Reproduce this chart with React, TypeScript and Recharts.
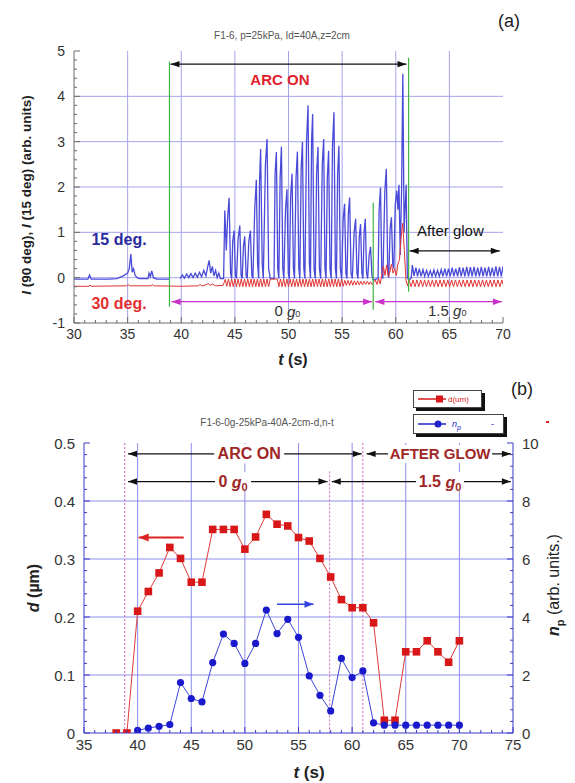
import React from 'react';
import { LineChart, Line, XAxis, YAxis, ReferenceLine, ReferenceDot } from 'recharts';

const FONT = '"Liberation Sans", Arial, Helvetica, sans-serif';

// ---------- panel (a): scattered light intensity vs time ----------
// 15 deg signal (blue), [t (s), I]
const blue15: [number, number | null][] = [
  [30.0, -0.03], [31.3, -0.03], [31.45, 0.06], [31.6, -0.03], [33.2, -0.03], [34.0, -0.02], [34.6, 0.04], [35.0, 0.1],
  [35.15, 0.2], [35.3, 0.52], [35.42, 0.12], [35.55, 0.2], [35.7, 0.05], [35.9, 0.0], [36.1, -0.02], [36.9, -0.02],
  [37.0, 0.1], [37.12, 0.02], [37.25, 0.15], [37.4, 0.0], [37.7, -0.03], [38.9, -0.03], [39.3, null],
  [39.9, -0.02], [40.1, 0.06], [40.3, -0.01], [40.5, 0.08], [40.7, 0.0], [40.9, 0.09], [41.1, 0.0], [41.3, 0.1],
  [41.5, 0.01], [41.7, 0.12], [41.9, 0.02], [42.1, 0.16], [42.3, 0.04], [42.45, 0.22], [42.6, 0.38], [42.75, 0.1],
  [42.9, 0.25], [43.05, 0.04], [43.2, 0.16], [43.35, 0.0], [43.5, 0.1], [43.65, -0.02], [43.95, -0.02],
  [44.06, 1.48], [44.2, 0.6], [44.32, 1.3], [44.46, 1.76], [44.6, 0.1], [44.7, -0.02], [44.8, 0.8], [44.93, 1.04],
  [45.05, 0.05], [45.15, -0.02], [45.3, 0.85], [45.46, 1.15], [45.58, 0.05], [45.68, -0.02], [45.8, 0.7], [45.92, 0.91],
  [46.05, 0.05], [46.15, -0.02], [46.3, 0.8], [46.45, 1.04], [46.58, 0.05], [46.68, -0.02], [46.85, 1.5], [47.0, 2.16],
  [47.12, 0.3], [47.22, -0.02], [47.3, 2.1], [47.4, 2.84], [47.55, 0.3], [47.65, -0.02], [47.85, 2.5], [48.0, 3.06],
  [48.15, 0.2], [48.3, -0.02], [48.65, -0.02], [48.75, 2.3], [48.87, 2.77], [49.0, 0.2], [49.1, -0.02], [49.22, 2.2],
  [49.34, 2.89], [49.47, 0.2], [49.57, -0.02], [49.72, 1.5], [49.86, 1.95], [49.98, 0.1], [50.08, -0.02], [50.2, 1.8],
  [50.33, 2.29], [50.46, 0.2], [50.56, -0.02], [50.7, 2.2], [50.83, 2.78], [50.96, 0.2], [51.06, -0.02], [51.18, 2.4],
  [51.3, 2.99], [51.43, 0.2], [51.53, -0.02], [51.68, 3.0], [51.82, 3.8], [51.95, 0.3], [52.05, -0.02], [52.15, 3.0],
  [52.25, 3.61], [52.38, 0.2], [52.5, -0.02], [52.62, 2.3], [52.75, 2.88], [52.88, 0.2], [53.0, -0.02], [53.15, 2.5],
  [53.28, 3.06], [53.4, 0.2], [53.5, -0.02], [53.62, 2.2], [53.74, 2.8], [53.87, 0.2], [53.98, -0.02], [54.1, 2.9],
  [54.24, 3.65], [54.37, 0.2], [54.47, -0.02], [54.58, 2.3], [54.7, 2.91], [54.83, 0.2], [54.95, -0.02], [55.1, 1.3],
  [55.23, 1.63], [55.35, 0.1], [55.45, -0.02], [55.58, 1.4], [55.7, 1.77], [55.83, 0.1], [55.95, -0.02], [56.12, 1.0],
  [56.26, 1.3], [56.38, 0.1], [56.48, -0.02], [56.6, 0.9], [56.72, 1.18], [56.84, 0.1], [56.94, -0.02], [57.05, 1.0],
  [57.16, 1.3], [57.28, 0.1], [57.38, -0.02], [57.52, 0.5], [57.65, 0.68], [57.78, 0.05], [57.9, -0.05], [58.35, -0.02],
  [58.45, 1.5], [58.58, 1.99], [58.7, 0.1], [58.8, -0.02], [58.98, 1.9], [59.12, 2.4], [59.25, 0.2], [59.35, 0.0],
  [59.48, 1.1], [59.6, 1.33], [59.72, 0.3], [59.82, 0.2], [59.95, 1.6], [60.1, 1.92], [60.2, 1.5], [60.3, 2.05],
  [60.42, 0.5], [60.55, 2.0], [60.66, 4.5], [60.78, 1.0], [60.88, 1.6], [60.97, 2.05], [61.08, 0.0], [61.2, -0.05],
  [61.35, -0.03], [61.45, 0.0], [61.55, 0.28], [61.7, 0.04], [61.88, 0.22], [62.03, 0.03], [62.2, 0.2], [62.36, 0.03],
  [62.54, 0.18], [62.7, 0.03], [62.88, 0.16], [63.04, 0.03], [63.22, 0.15], [63.38, 0.03], [63.56, 0.17], [63.72, 0.03],
  [63.9, 0.16], [64.06, 0.03], [64.24, 0.18], [64.4, 0.03], [64.58, 0.2], [64.74, 0.03], [64.92, 0.2], [65.08, 0.03],
  [65.26, 0.22], [65.42, 0.03], [65.6, 0.2], [65.76, 0.03], [65.94, 0.23], [66.1, 0.03], [66.28, 0.22], [66.44, 0.03],
  [66.62, 0.24], [66.78, 0.03], [66.96, 0.23], [67.12, 0.03], [67.3, 0.24], [67.46, 0.03], [67.64, 0.22], [67.8, 0.03],
  [67.98, 0.24], [68.14, 0.03], [68.32, 0.22], [68.48, 0.03], [68.66, 0.24], [68.82, 0.03], [69.0, 0.22], [69.16, 0.03],
  [69.34, 0.25], [69.5, 0.03], [69.68, 0.24], [69.84, 0.03], [70.0, 0.25],
];

// 30 deg signal (red), [t (s), I]
const red30: [number, number][] = [
  [30, -0.19], [31.4, -0.19], [31.5, -0.16], [31.6, -0.19], [34.9, -0.18], [35.05, -0.15], [35.2, -0.18], [37.2, -0.18],
  [37.3, -0.15], [37.45, -0.18], [40, -0.19], [41.6, -0.18], [41.75, -0.15], [41.9, -0.18], [42.3, -0.16], [42.5, -0.13],
  [42.7, -0.17], [42.9, -0.14], [43.2, -0.18], [43.9, -0.17], [44.1, -0.04],
  [44.25, -0.19], [44.4, -0.03], [44.55, -0.2], [44.7, -0.03], [44.85, -0.2], [45.0, -0.03], [45.15, -0.2], [45.3, -0.03],
  [45.45, -0.2], [45.6, -0.03], [45.75, -0.2], [45.9, -0.03], [46.05, -0.2], [46.2, -0.03], [46.35, -0.2], [46.5, -0.03],
  [46.65, -0.2], [46.8, -0.03], [46.95, -0.2], [47.1, -0.03], [47.25, -0.2], [47.4, -0.03], [47.55, -0.2], [47.7, -0.03],
  [47.85, -0.2], [48.0, -0.03], [48.15, -0.2], [48.3, -0.03], [48.95, -0.03],
  [49.1, -0.2], [49.25, -0.03], [49.4, -0.2], [49.55, -0.03], [49.7, -0.2], [49.85, -0.03], [50.0, -0.2], [50.15, -0.03],
  [50.3, -0.2], [50.45, -0.03], [50.6, -0.2], [50.75, -0.03], [50.9, -0.2], [51.05, -0.03], [51.2, -0.2], [51.35, -0.03],
  [51.5, -0.2], [51.65, -0.03], [51.8, -0.2], [51.95, -0.03], [52.1, -0.2], [52.25, -0.03], [52.4, -0.2], [52.55, -0.03],
  [52.7, -0.2], [52.85, -0.03], [53.0, -0.2], [53.15, -0.03], [53.3, -0.2], [53.45, -0.03], [53.6, -0.2], [53.75, -0.03],
  [53.9, -0.2], [54.05, -0.03], [54.2, -0.2], [54.35, -0.03], [54.5, -0.2], [54.65, -0.03], [54.8, -0.2], [54.95, -0.03],
  [55.1, -0.19], [55.25, -0.06], [55.4, -0.17], [55.55, -0.06], [55.7, -0.17], [55.85, -0.06], [56.0, -0.17], [56.15, -0.07],
  [56.3, -0.16], [56.45, -0.07], [56.6, -0.16], [56.75, -0.08], [56.9, -0.16], [57.05, -0.08], [57.2, -0.15], [57.35, -0.08],
  [57.5, -0.15], [57.65, -0.09], [57.8, -0.15],
  [57.95, -0.1], [58.1, -0.05], [58.25, -0.15], [58.4, -0.02], [58.55, -0.14], [58.7, 0.05], [58.85, 0.25], [59.0, 0.05],
  [59.15, 0.28], [59.3, 0.02], [59.45, 0.12], [59.6, 0.3], [59.75, 0.1], [59.9, 0.2], [60.05, 0.05], [60.2, 0.3],
  [60.35, 0.4], [60.5, 0.9], [60.65, 1.2], [60.8, 0.6], [60.95, -0.05], [61.1, -0.18],
  [61.25, -0.05], [61.43, -0.2], [61.61, -0.05], [61.79, -0.2], [61.97, -0.05], [62.15, -0.2], [62.33, -0.05], [62.51, -0.2],
  [62.69, -0.05], [62.87, -0.2], [63.05, -0.05], [63.23, -0.2], [63.41, -0.05], [63.59, -0.2], [63.77, -0.05], [63.95, -0.2],
  [64.13, -0.05], [64.31, -0.2], [64.49, -0.05], [64.67, -0.2], [64.85, -0.05], [65.03, -0.2], [65.21, -0.05], [65.39, -0.2],
  [65.57, -0.05], [65.75, -0.2], [65.93, -0.05], [66.11, -0.2], [66.29, -0.05], [66.47, -0.2], [66.65, -0.05], [66.83, -0.2],
  [67.01, -0.05], [67.19, -0.2], [67.37, -0.05], [67.55, -0.2], [67.73, -0.05], [67.91, -0.2], [68.09, -0.05], [68.27, -0.2],
  [68.45, -0.05], [68.63, -0.2], [68.81, -0.05], [68.99, -0.2], [69.17, -0.05], [69.35, -0.2], [69.53, -0.05], [69.71, -0.2],
  [69.89, -0.05], [70.0, -0.15],
];

const xMajorA = [30, 35, 40, 45, 50, 55, 60, 65, 70];
const yMajorA = [-1, 0, 1, 2, 3, 4, 5];

// ---------- panel (b): particle size and number density ----------
const timesB = [38, 39, 40, 41, 42, 43, 44, 45, 46, 47, 48, 49, 50, 51, 52, 53, 54, 55, 56, 57, 58, 59, 60, 61, 62, 63, 64, 65, 66, 67, 68, 69, 70];
const dValues = [0, 0, 0.21, 0.244, 0.276, 0.32, 0.301, 0.26, 0.26, 0.351, 0.351, 0.351, 0.317, 0.338, 0.377, 0.36, 0.357, 0.337, 0.331, 0.301, 0.269, 0.23, 0.216, 0.216, 0.19, 0.022, 0.022, 0.14, 0.14, 0.159, 0.14, 0.122, 0.159];
const npValues = [null, null, 0.09, 0.17, 0.23, 0.29, 1.74, 1.19, 1.07, 2.43, 3.41, 3.09, 2.4, 3.09, 4.24, 3.43, 3.92, 3.3, 1.97, 1.3, 0.76, 2.57, 1.91, 2.14, 0.35, 0.27, 0.27, 0.27, 0.27, 0.27, 0.27, 0.27, 0.27];

const xMajorB = [35, 40, 45, 50, 55, 60, 65, 70, 75];
const dMajor = [0, 0.1, 0.2, 0.3, 0.4, 0.5];
const npMajor = [0, 2, 4, 6, 8, 10];

const seriesA15 = blue15.map(([t, v]) => ({ t, v }));
const seriesA30 = red30.map(([t, v]) => ({ t, v }));
const dataB = timesB.map((t, i) => ({ t, d: dValues[i], np: npValues[i] }));

const steps = (from: number, to: number, step: number) => {
  const n = Math.round((to - from) / step);
  return Array.from({ length: n + 1 }, (_, i) => Math.round((from + i * step) * 1000) / 1000);
};

type Side = 'bottom' | 'top' | 'left' | 'right';
const makeTick =
  (side: Side, majors: number[], color: string, labels: boolean, fontSize: number, labelColor = '#333') =>
  (props: any) => {
    const { x, y, payload } = props;
    const v = payload.value as number;
    const major = majors.some((m) => Math.abs(m - v) < 1e-6);
    const len = major ? 6 : 3;
    let line: React.ReactNode = null;
    let text: React.ReactNode = null;
    const txt = { fontSize, fill: labelColor, fontFamily: FONT } as any;
    if (side === 'bottom') {
      line = <line x1={x} y1={y} x2={x} y2={y - len} stroke={color} />;
      if (labels && major) text = <text x={x} y={y + 6} textAnchor="middle" dominantBaseline="hanging" {...txt}>{v}</text>;
    } else if (side === 'top') {
      line = <line x1={x} y1={y} x2={x} y2={y + len} stroke={color} />;
    } else if (side === 'left') {
      line = <line x1={x} y1={y} x2={x + len} y2={y} stroke={color} />;
      if (labels && major) text = <text x={x - 9} y={y} textAnchor="end" dominantBaseline="central" {...txt}>{v}</text>;
    } else {
      line = <line x1={x} y1={y} x2={x - len} y2={y} stroke={color} />;
      if (labels && major) text = <text x={x + 9} y={y} textAnchor="start" dominantBaseline="central" {...txt}>{v}</text>;
    }
    return (
      <g>
        {line}
        {text}
      </g>
    );
  };

const Arrow =
  (color: string, heads: 'both' | 'start' | 'end', sw = 1.2, hl = 9, hw = 3.2) =>
  (p: any) => {
    const { x1, y1, x2, y2 } = p;
    const dir = x2 >= x1 ? 1 : -1;
    const polys: string[] = [];
    if (heads !== 'start') polys.push(`${x2},${y2} ${x2 - dir * hl},${y2 - hw} ${x2 - dir * hl},${y2 + hw}`);
    if (heads !== 'end') polys.push(`${x1},${y1} ${x1 + dir * hl},${y1 - hw} ${x1 + dir * hl},${y1 + hw}`);
    return (
      <g>
        <line x1={x1} y1={y1} x2={x2} y2={y2} stroke={color} strokeWidth={sw} />
        {polys.map((pt, i) => (
          <polygon key={i} points={pt} fill={color} />
        ))}
      </g>
    );
  };

const TextMark =
  (content: React.ReactNode, size: number, color: string, weight: any = 'normal', bg = 0) =>
  (p: any) => (
    <g>
      {bg ? <rect x={p.cx - bg / 2} y={p.cy - size * 0.6} width={bg} height={size * 1.2} fill="#fff" /> : null}
      <text x={p.cx} y={p.cy} textAnchor="middle" dominantBaseline="central" fontSize={size} fill={color} fontWeight={weight} fontFamily={FONT}>
        {content}
      </text>
    </g>
  );

const SquareDot = (p: any) =>
  p.cx == null || p.cy == null ? <g key={p.index} /> : <rect key={p.index} x={p.cx - 3.8} y={p.cy - 3.8} width={7.6} height={7.6} fill="#d81818" />;

const Label = ({ x, y, rotate = 0, style, children }: { x: number; y: number; rotate?: number; style?: React.CSSProperties; children: React.ReactNode }) => (
  <div
    style={{
      position: 'absolute',
      left: x,
      top: y,
      transform: `translate(-50%, -50%) rotate(${rotate}deg)`,
      whiteSpace: 'nowrap',
      fontFamily: FONT,
      lineHeight: 1,
      ...style,
    }}
  >
    {children}
  </div>
);

const PanelA = () => {
  const frame = '#6a6a6a';
  const grid = '#a4a4ee';
  const xs = { xAxisId: 'b', yAxisId: 'l', ifOverflow: 'visible' as const };
  return (
    <LineChart width={575} height={380} margin={{ top: 51, right: 72, bottom: 32, left: 34 }}>
      <XAxis xAxisId="b" type="number" dataKey="t" domain={[30, 70]} allowDataOverflow ticks={steps(30, 70, 1)} interval={0}
        height={25} tickSize={0} tickMargin={0} tickLine={false} axisLine={{ stroke: frame }} tick={makeTick('bottom', xMajorA, frame, true, 14)} />
      <XAxis xAxisId="t" orientation="top" type="number" dataKey="t" domain={[30, 70]} allowDataOverflow ticks={steps(30, 70, 1)} interval={0}
        height={0} tickSize={0} tickMargin={0} tickLine={false} axisLine={{ stroke: frame }} tick={makeTick('top', xMajorA, frame, false, 14)} />
      <YAxis yAxisId="l" type="number" domain={[-1, 5]} allowDataOverflow ticks={steps(-1, 5, 0.2)} interval={0}
        width={40} tickSize={0} tickMargin={0} tickLine={false} axisLine={{ stroke: frame }} tick={makeTick('left', yMajorA, frame, true, 14)} />
      <YAxis yAxisId="r" orientation="right" type="number" domain={[-1, 5]} allowDataOverflow ticks={steps(-1, 5, 0.2)} interval={0}
        width={0} tickSize={0} tickMargin={0} tickLine={false} axisLine={{ stroke: frame }} tick={makeTick('right', yMajorA, frame, false, 14)} />

      {xMajorA.slice(1, -1).map((x) => (
        <ReferenceLine key={'gx' + x} {...xs} x={x} stroke={grid} />
      ))}
      {yMajorA.slice(1, -1).map((y) => (
        <ReferenceLine key={'gy' + y} {...xs} y={y} stroke={grid} />
      ))}

      <Line xAxisId="b" yAxisId="l" data={seriesA15} dataKey="v" stroke="#4a4ad8" strokeWidth={1.3} dot={false} isAnimationActive={false} type="linear" />
      <Line xAxisId="b" yAxisId="l" data={seriesA30} dataKey="v" stroke="#e23434" strokeWidth={1} dot={false} isAnimationActive={false} type="linear" />

      <ReferenceLine {...xs} segment={[{ x: 38.9, y: 4.77 }, { x: 38.9, y: -0.64 }]} stroke="#3fb63f" strokeWidth={1.2} />
      <ReferenceLine {...xs} segment={[{ x: 61.2, y: 4.85 }, { x: 61.2, y: -0.31 }]} stroke="#3fb63f" strokeWidth={1.2} />
      <ReferenceLine {...xs} segment={[{ x: 57.9, y: 1.65 }, { x: 57.9, y: -0.71 }]} stroke="#3fb63f" strokeWidth={1.2} />

      <ReferenceLine {...xs} segment={[{ x: 39.0, y: 4.71 }, { x: 61.0, y: 4.71 }]} shape={Arrow('#111', 'both')} />
      <ReferenceLine {...xs} segment={[{ x: 61.3, y: 0.59 }, { x: 69.7, y: 0.59 }]} shape={Arrow('#111', 'both')} />
      <ReferenceLine {...xs} segment={[{ x: 39.1, y: -0.53 }, { x: 57.8, y: -0.53 }]} shape={Arrow('#c832c8', 'both')} />
      <ReferenceLine {...xs} segment={[{ x: 58.1, y: -0.53 }, { x: 69.9, y: -0.53 }]} shape={Arrow('#c832c8', 'both')} />

      <ReferenceDot {...xs} x={49.2} y={4.38} r={0} shape={TextMark('ARC ON', 15, '#e3202c', 'bold')} />
      <ReferenceDot {...xs} x={65.1} y={1.05} r={0} shape={TextMark('After glow', 15, '#111', 500)} />
      <ReferenceDot {...xs} x={34.2} y={0.85} r={0} shape={TextMark('15 deg.', 16, '#2a2a9c', 'bold')} />
      <ReferenceDot {...xs} x={34.2} y={-0.58} r={0} shape={TextMark('30 deg.', 16, '#e23030', 'bold')} />
      <ReferenceDot {...xs} x={49.9} y={-0.73} r={0}
        shape={TextMark(<>0 <tspan fontStyle="italic">g</tspan><tspan fontSize={9} dy={3}>0</tspan></>, 15, '#333')} />
      <ReferenceDot {...xs} x={64.8} y={-0.72} r={0}
        shape={TextMark(<>1.5 <tspan fontStyle="italic">g</tspan><tspan fontSize={9} dy={3}>0</tspan></>, 15, '#333')} />
    </LineChart>
  );
};

const PanelB = () => {
  const frame = '#3a3ac8';
  const grid = '#8c8cee';
  const ds = { xAxisId: 'b', yAxisId: 'l', ifOverflow: 'visible' as const };
  const darkRed = '#9e2626';
  return (
    <LineChart width={575} height={403} data={dataB} margin={{ top: 63, right: 32, bottom: 25, left: 44 }}>
      <XAxis xAxisId="b" type="number" dataKey="t" domain={[35, 75]} allowDataOverflow ticks={steps(35, 75, 1)} interval={0}
        height={25} tickSize={0} tickMargin={0} tickLine={false} axisLine={{ stroke: frame }} tick={makeTick('bottom', xMajorB, frame, true, 15)} />
      <XAxis xAxisId="t" orientation="top" type="number" dataKey="t" domain={[35, 75]} allowDataOverflow ticks={steps(35, 75, 1)} interval={0}
        height={0} tickSize={0} tickMargin={0} tickLine={false} axisLine={{ stroke: frame }} tick={makeTick('top', xMajorB, frame, false, 15)} />
      <YAxis yAxisId="l" type="number" domain={[0, 0.5]} allowDataOverflow ticks={steps(0, 0.5, 0.02)} interval={0}
        width={40} tickSize={0} tickMargin={0} tickLine={false} axisLine={{ stroke: frame }} tick={makeTick('left', dMajor, frame, true, 15)} />
      <YAxis yAxisId="r" orientation="right" type="number" domain={[0, 10]} allowDataOverflow ticks={steps(0, 10, 0.4)} interval={0}
        width={30} tickSize={0} tickMargin={0} tickLine={false} axisLine={{ stroke: frame }} tick={makeTick('right', npMajor, frame, true, 15)} />

      {xMajorB.slice(1, -1).map((x) => (
        <ReferenceLine key={'gx' + x} {...ds} x={x} stroke={grid} />
      ))}
      {dMajor.slice(1, -1).map((y) => (
        <ReferenceLine key={'gy' + y} {...ds} y={y} stroke={grid} />
      ))}

      <ReferenceLine {...ds} segment={[{ x: 38.8, y: 0.5 }, { x: 38.8, y: 0 }]} stroke="#d060c0" strokeDasharray="2 2" />
      <ReferenceLine {...ds} segment={[{ x: 57.9, y: 0.451 }, { x: 57.9, y: 0 }]} stroke="#d060c0" strokeDasharray="2 2" />
      <ReferenceLine {...ds} segment={[{ x: 61.0, y: 0.5 }, { x: 61.0, y: 0 }]} stroke="#d060c0" strokeDasharray="2 2" />

      <ReferenceLine {...ds} segment={[{ x: 39.1, y: 0.4813 }, { x: 60.9, y: 0.4813 }]} shape={Arrow('#111', 'both')} />
      <ReferenceLine {...ds} segment={[{ x: 61.35, y: 0.4813 }, { x: 74.8, y: 0.4813 }]} shape={Arrow('#111', 'both')} />
      <ReferenceLine {...ds} segment={[{ x: 39.1, y: 0.4335 }, { x: 57.7, y: 0.4335 }]} shape={Arrow('#111', 'both')} />
      <ReferenceLine {...ds} segment={[{ x: 58.1, y: 0.4335 }, { x: 74.8, y: 0.4335 }]} shape={Arrow('#111', 'both')} />
      <ReferenceLine {...ds} segment={[{ x: 44.3, y: 0.337 }, { x: 40.1, y: 0.337 }]} shape={Arrow('#dd2222', 'end', 2, 10, 4)} />
      <ReferenceLine {...ds} segment={[{ x: 53.0, y: 0.222 }, { x: 56.4, y: 0.222 }]} shape={Arrow('#3344dd', 'end', 1.6, 9, 3.5)} />

      <ReferenceDot {...ds} x={50.4} y={0.4813} r={0} shape={TextMark('ARC ON', 16, darkRed, 'bold', 70)} />
      <ReferenceDot {...ds} x={68.2} y={0.4813} r={0} shape={TextMark('AFTER GLOW', 15, darkRed, 'bold', 104)} />
      <ReferenceDot {...ds} x={48.9} y={0.4335} r={0}
        shape={TextMark(<>0 <tspan fontStyle="italic">g</tspan><tspan fontSize={11} dy={5}>0</tspan></>, 16, darkRed, 'bold', 36)} />
      <ReferenceDot {...ds} x={68.2} y={0.4335} r={0}
        shape={TextMark(<>1.5 <tspan fontStyle="italic">g</tspan><tspan fontSize={11} dy={5}>0</tspan></>, 16, darkRed, 'bold', 48)} />

      <Line xAxisId="b" yAxisId="l" dataKey="d" stroke="#e03a3a" strokeWidth={1} dot={SquareDot} isAnimationActive={false} type="linear" />
      <Line xAxisId="b" yAxisId="r" dataKey="np" stroke="#3a46d8" strokeWidth={1} dot={{ r: 3.6, fill: '#1a1acc', stroke: '#1a1acc', strokeWidth: 0 }}
        isAnimationActive={false} type="linear" />
    </LineChart>
  );
};

const legendBox: React.CSSProperties = {
  position: 'absolute',
  background: '#fff',
  border: '1px solid #444',
  boxShadow: '3px 3px 0 #111',
  display: 'flex',
  alignItems: 'center',
  fontFamily: FONT,
};

export default function App() {
  return (
    <div style={{ position: 'absolute', left: 0, top: 0, width: 575, height: 783, background: '#fff', overflow: 'hidden' }}>
      <div style={{ position: 'absolute', left: 0, top: 0 }}>
        <PanelA />
      </div>
      <div style={{ position: 'absolute', left: 0, top: 380 }}>
        <PanelB />
      </div>

      {/* panel (a) texts */}
      <Label x={509} y={21} style={{ fontSize: 18, color: '#222' }}>(a)</Label>
      <Label x={282} y={36} style={{ fontSize: 10, color: '#555' }}>F1-6, p=25kPa, Id=40A,z=2cm</Label>
      <Label x={293} y={360} style={{ fontSize: 16, fontWeight: 'bold', color: '#222' }}>
        <i>t</i> (s)
      </Label>
      <Label x={27} y={195} rotate={-90} style={{ fontSize: 13.5, fontWeight: 'bold', color: '#222' }}>
        <i>I</i> (90 deg), <i>I</i> (15 deg) (arb. units)
      </Label>

      {/* panel (b) texts */}
      <Label x={522} y={389} style={{ fontSize: 18, color: '#222' }}>(b)</Label>
      <Label x={267} y={423} style={{ fontSize: 10, color: '#555' }}>F1-6-0g-25kPa-40A-2cm-d,n-t</Label>
      <Label x={309} y={772} style={{ fontSize: 17, fontWeight: 'bold', color: '#222' }}>
        <i>t</i> (s)
      </Label>
      <Label x={34} y={588} rotate={-90} style={{ fontSize: 16, fontWeight: 'bold', color: '#222' }}>
        <i>d</i> (µm)
      </Label>
      <Label x={556} y={585} rotate={-90} style={{ fontSize: 16, color: '#222' }}>
        <b>
          <i>n</i>
          <sub style={{ fontSize: 11 }}>p</sub>
        </b>{' '}
        (arb. units.)
      </Label>

      {/* panel (b) legend */}
      <div style={{ ...legendBox, left: 413, top: 390, width: 67, height: 16 }}>
        <svg width={34} height={16}>
          <line x1={4} y1={8} x2={32} y2={8} stroke="#d81818" strokeWidth={1.5} />
          <rect x={22} y={4.5} width={7} height={7} fill="#d81818" />
        </svg>
        <span style={{ fontSize: 8, color: '#d81818' }}>d(um)</span>
      </div>
      <div style={{ ...legendBox, left: 413, top: 414, width: 89, height: 18 }}>
        <svg width={34} height={18}>
          <line x1={4} y1={9} x2={32} y2={9} stroke="#2222cc" strokeWidth={1.5} />
          <circle cx={24} cy={9} r={3.5} fill="#2222cc" />
        </svg>
        <span style={{ fontSize: 9, color: '#2222cc', fontStyle: 'italic', marginLeft: 4 }}>n</span>
        <span style={{ fontSize: 7, color: '#2222cc', fontStyle: 'italic', marginTop: 6 }}>p</span>
        <span style={{ fontSize: 9, color: '#2222cc', marginLeft: 30 }}>-</span>
      </div>
      <div style={{ position: 'absolute', left: 546, top: 421, width: 3, height: 2, background: '#e02020' }} />
    </div>
  );
}
